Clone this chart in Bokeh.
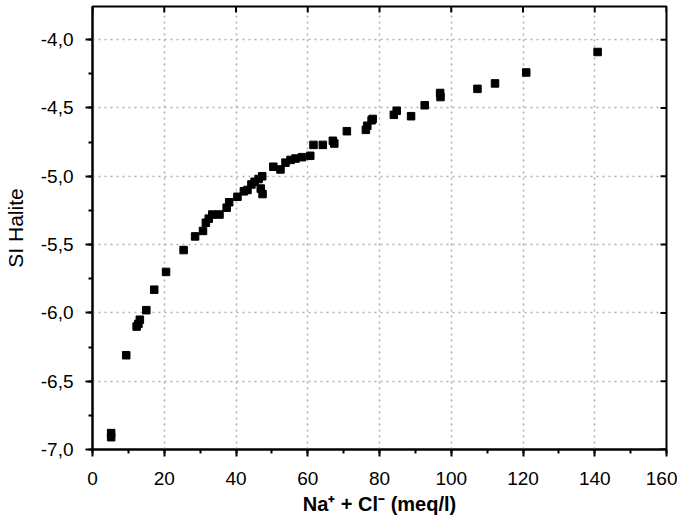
import math
from bokeh.plotting import figure
from bokeh.models import SingleIntervalTicker, Range1d, ColumnDataSource
from bokeh.embed import file_html
from bokeh.resources import INLINE

na_cl = [5.2, 5.2, 9.4, 12.3, 12.8, 13.2, 15.0, 17.2, 20.5, 25.4, 28.6, 30.8, 31.6, 32.4,
         33.4, 35.4, 37.4, 38.1, 40.4, 42.2, 43.2, 44.3, 45.2, 46.3, 47.3, 46.9, 47.4,
         50.4, 52.4, 53.8, 55.2, 56.6, 58.4, 60.7, 61.6, 64.2, 67.0, 67.4, 70.9, 76.2,
         76.6, 77.8, 78.1, 84.0, 84.8, 88.8, 92.6, 96.9, 97.0, 107.3, 112.2, 120.9, 140.8]
si_halite = [-6.88, -6.91, -6.31, -6.10, -6.08, -6.05, -5.98, -5.83, -5.70, -5.54, -5.44,
             -5.40, -5.34, -5.31, -5.28, -5.28, -5.23, -5.19, -5.15, -5.11, -5.10, -5.06,
             -5.04, -5.02, -5.00, -5.09, -5.13, -4.93, -4.95, -4.90, -4.88, -4.87, -4.86,
             -4.85, -4.77, -4.77, -4.74, -4.76, -4.67, -4.66, -4.63, -4.59, -4.58, -4.55,
             -4.52, -4.56, -4.48, -4.39, -4.42, -4.36, -4.32, -4.24, -4.09]

y_ticks = [-7.0, -6.5, -6.0, -5.5, -5.0, -4.5, -4.0]
y_tick_labels = ["-7,0", "-6,5", "-6,0", "-5,5", "-5,0", "-4,5", "-4,0"]
x_ticks = [0, 20, 40, 60, 80, 100, 120, 140, 160]

X_MIN, X_MAX = 0, 160
Y_MIN, Y_MAX = -7.0, -3.757

FONT = "Liberation Sans"

p = figure(width=677, height=521, output_backend="svg", toolbar_location=None,
           x_range=Range1d(X_MIN, X_MAX), y_range=Range1d(Y_MIN, Y_MAX),
           min_border_left=89, min_border_right=11, min_border_top=6, min_border_bottom=72)
p.background_fill_color = "white"
p.outline_line_color = "black"
p.outline_line_width = 2

src = ColumnDataSource(dict(x=na_cl, y=si_halite))
p.scatter("x", "y", source=src, marker="square", size=7.5, fill_color="black", line_color="black")

# inward ticks on right and top frame edges
p.scatter(x=[X_MAX] * len(y_ticks), y=y_ticks, marker="dash", size=12,
          line_color="black", line_width=2)
p.scatter(x=x_ticks, y=[Y_MAX] * len(x_ticks), marker="dash", size=12, angle=math.pi / 2,
          line_color="black", line_width=2)

p.xaxis.ticker = SingleIntervalTicker(interval=20, num_minor_ticks=2)
p.yaxis.ticker = SingleIntervalTicker(interval=0.5, num_minor_ticks=2)
p.yaxis.major_label_overrides = {v: s for v, s in zip(y_ticks, y_tick_labels)}

for ax in (p.xaxis[0], p.yaxis[0]):
    ax.axis_line_width = 2
    ax.axis_line_color = "black"
    ax.major_tick_line_width = 2
    ax.minor_tick_line_width = 2
    ax.major_tick_out = 7
    ax.major_tick_in = 0
    ax.minor_tick_out = 4
    ax.minor_tick_in = 0
    ax.major_label_text_font = FONT
    ax.major_label_text_font_size = "19px"
    ax.major_label_text_color = "black"
    ax.axis_label_text_font = FONT
    ax.axis_label_text_color = "black"

p.xaxis.axis_label = "Na\u207a + Cl\u207b (meq/l)"
p.xaxis.axis_label_text_font_style = "bold"
p.xaxis.axis_label_text_font_size = "20px"
p.xaxis.major_label_standoff = 15
p.xaxis.axis_label_standoff = 5
p.yaxis.axis_label = "SI Halite"
p.yaxis.axis_label_text_font_style = "normal"
p.yaxis.axis_label_text_font_size = "21px"
p.yaxis.major_label_standoff = 12
p.yaxis.axis_label_standoff = 11

for g in (p.xgrid[0], p.ygrid[0]):
    g.grid_line_color = "#b0b0b0"
    g.grid_line_dash = "2 4"
    g.grid_line_width = 1.5

open("out.html", "w").write(file_html(p, INLINE))
